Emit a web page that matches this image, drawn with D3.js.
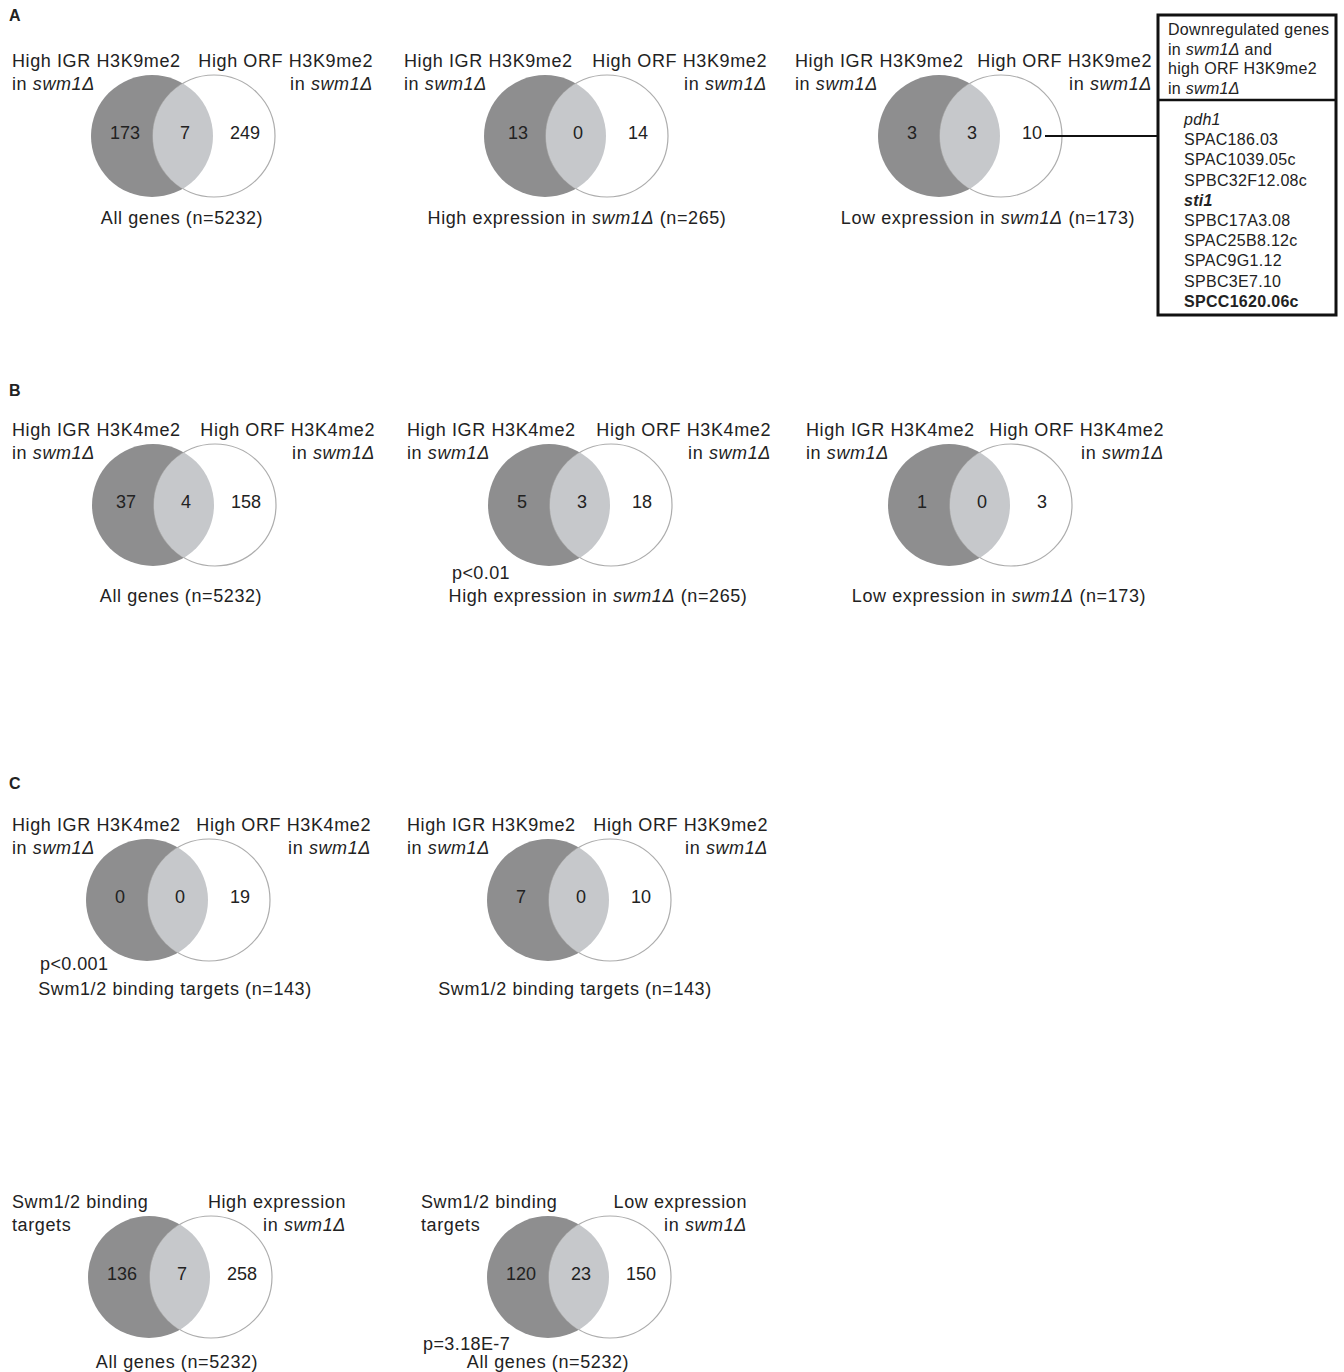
<!DOCTYPE html>
<html>
<head>
<meta charset="utf-8">
<script src="https://cdn.jsdelivr.net/npm/d3@7"></script>
<style>
  body { margin: 0; background: #fff; }
  text { font-family: "Liberation Sans", Arial, sans-serif; fill: #222; }
</style>
</head>
<body>
<svg></svg>
<script>
// ---- data ----
const panelLetters = ['A', 'B', 'C'];

const leftSetLabels = [
	['High IGR H3K9me2', 'in swm1Δ'], ['High IGR H3K9me2', 'in swm1Δ'], ['High IGR H3K9me2', 'in swm1Δ'],
	['High IGR H3K4me2', 'in swm1Δ'], ['High IGR H3K4me2', 'in swm1Δ'], ['High IGR H3K4me2', 'in swm1Δ'],
	['High IGR H3K4me2', 'in swm1Δ'], ['High IGR H3K9me2', 'in swm1Δ'],
	['Swm1/2 binding', 'targets'], ['Swm1/2 binding', 'targets']
];
const rightSetLabels = [
	['High ORF H3K9me2', 'in swm1Δ'], ['High ORF H3K9me2', 'in swm1Δ'], ['High ORF H3K9me2', 'in swm1Δ'],
	['High ORF H3K4me2', 'in swm1Δ'], ['High ORF H3K4me2', 'in swm1Δ'], ['High ORF H3K4me2', 'in swm1Δ'],
	['High ORF H3K4me2', 'in swm1Δ'], ['High ORF H3K9me2', 'in swm1Δ'],
	['High expression', 'in swm1Δ'], ['Low expression', 'in swm1Δ']
];
// [left only, overlap, right only]
const vennCounts = [
	[173, 7, 249], [13, 0, 14], [3, 3, 10],
	[37, 4, 158], [5, 3, 18], [1, 0, 3],
	[0, 0, 19], [7, 0, 10],
	[136, 7, 258], [120, 23, 150]
];
const universeLabels = [
	'All genes (n=5232)', 'High expression in swm1Δ (n=265)', 'Low expression in swm1Δ (n=173)',
	'All genes (n=5232)', 'High expression in swm1Δ (n=265)', 'Low expression in swm1Δ (n=173)',
	'Swm1/2 binding targets (n=143)', 'Swm1/2 binding targets (n=143)',
	'All genes (n=5232)', 'All genes (n=5232)'
];
const pValues = [null, null, null, null, 'p<0.01', null, 'p<0.001', null, null, 'p=3.18E-7'];

const geneBoxHeader = ['Downregulated genes', 'in swm1Δ and', 'high ORF H3K9me2', 'in swm1Δ'];
const geneList = ['pdh1', 'SPAC186.03', 'SPAC1039.05c', 'SPBC32F12.08c', 'sti1',
	'SPBC17A3.08', 'SPAC25B8.12c', 'SPAC9G1.12', 'SPBC3E7.10', 'SPCC1620.06c'];
const geneStyle = { pdh1: 'italic', sti1: 'bolditalic', 'SPCC1620.06c': 'bold' };

// ---- layout ----
const width = 1344, height = 1372;
const svg = d3.select('svg').attr('width', width).attr('height', height);

const rowY = [136, 505, 900, 1277];
const bottomOff = [81, 90, 88, 84];
const pOff = [0, 67, 63, 66];
const letterY = [15, 390, 783];
// per-venn: row, middle x, label extent, bottom label centre, p label start
const layout = [
	{ row: 0, mid: 183, l: 12, r: 373, bx: 182, px: 0 },
	{ row: 0, mid: 576, l: 404, r: 767, bx: 577, px: 0 },
	{ row: 0, mid: 970, l: 795, r: 1152, bx: 988, px: 0 },
	{ row: 1, mid: 184, l: 12, r: 375, bx: 181, px: 0 },
	{ row: 1, mid: 580, l: 407, r: 771, bx: 598, px: 452 },
	{ row: 1, mid: 980, l: 806, r: 1164, bx: 999, px: 0 },
	{ row: 2, mid: 178, l: 12, r: 371, bx: 175, px: 40 },
	{ row: 2, mid: 579, l: 407, r: 768, bx: 575, px: 0 },
	{ row: 3, mid: 180, l: 12, r: 346, bx: 177, px: 0 },
	{ row: 3, mid: 579, l: 421, r: 747, bx: 548, px: 423 }
];
const radius = 61, halfGap = 31;

// writes a string into a text node, with swm1Δ set in italics
const richText = (sel, str) => {
	str.split(/(swm1Δ)/).filter(s => s).forEach(part => {
		sel.append('tspan')
			.attr('font-style', part === 'swm1Δ' ? 'italic' : null)
			.text(part);
	});
};

svg.append('rect').attr('width', width).attr('height', height).attr('fill', '#fff');

svg.selectAll('.panel-letter').data(panelLetters).enter().append('text')
	.attr('class', 'panel-letter')
	.attr('x', 9).attr('y', (d, i) => letterY[i] + 6)
	.attr('font-size', 16).attr('font-weight', 'bold')
	.text(d => d);

const defs = svg.append('defs');

layout.forEach((lay, i) => {
	const cy = rowY[lay.row];
	const xScale = d3.scalePoint()
		.domain(['left', 'both', 'right'])
		.range([lay.mid - 58, lay.mid + 62]);
	const circleX = d3.scalePoint()
		.domain(['left', 'right'])
		.range([lay.mid - halfGap, lay.mid + halfGap]);

	const g = svg.append('g');

	defs.append('clipPath').attr('id', 'clip' + i)
		.append('circle')
		.attr('cx', circleX('left')).attr('cy', cy).attr('r', radius);

	g.append('circle')
		.attr('cx', circleX('left')).attr('cy', cy).attr('r', radius)
		.attr('fill', '#8e8e8f');
	g.append('circle')
		.attr('cx', circleX('right')).attr('cy', cy).attr('r', radius)
		.attr('fill', '#fff').attr('stroke', '#adadad').attr('stroke-width', 1.2);
	g.append('circle')
		.attr('clip-path', `url(#clip${i})`)
		.attr('cx', circleX('right')).attr('cy', cy).attr('r', radius)
		.attr('fill', '#c6c8cb');

	g.selectAll('.count').data(vennCounts[i]).enter().append('text')
		.attr('class', 'count')
		.attr('x', (d, j) => xScale(xScale.domain()[j]))
		.attr('y', cy + 2.5)
		.attr('text-anchor', 'middle')
		.attr('font-size', 18)
		.text(d => d);

	leftSetLabels[i].forEach((line, k) => {
		g.append('text')
			.attr('x', lay.l).attr('y', cy - 69 + k * 22.5)
			.attr('font-size', 18).attr('letter-spacing', 0.6)
			.call(richText, line);
	});
	rightSetLabels[i].forEach((line, k) => {
		g.append('text')
			.attr('x', lay.r).attr('y', cy - 69 + k * 22.5)
			.attr('text-anchor', 'end')
			.attr('font-size', 18).attr('letter-spacing', 0.6)
			.call(richText, line);
	});

	g.append('text')
		.attr('x', lay.bx).attr('y', cy + bottomOff[lay.row] + 6.5)
		.attr('text-anchor', 'middle')
		.attr('font-size', 18).attr('letter-spacing', 0.6)
		.call(richText, universeLabels[i]);

	if (pValues[i]) {
		g.append('text')
			.attr('x', lay.px).attr('y', cy + pOff[lay.row] + 6.5)
			.attr('font-size', 18).attr('letter-spacing', 0.4)
			.text(pValues[i]);
	}
});

// gene list box linked to the "10" region of panel A, third diagram
const box = { x: 1158, y: 15, w: 178, h: 300, split: 85 };
const linkY = rowY[0];

svg.append('line')
	.attr('x1', 1045).attr('x2', box.x)
	.attr('y1', linkY).attr('y2', linkY)
	.attr('stroke', '#111').attr('stroke-width', 2);

svg.append('rect')
	.attr('x', box.x).attr('y', box.y).attr('width', box.w).attr('height', box.h)
	.attr('fill', '#fff').attr('stroke', '#111').attr('stroke-width', 3);
svg.append('line')
	.attr('x1', box.x).attr('x2', box.x + box.w)
	.attr('y1', box.y + box.split).attr('y2', box.y + box.split)
	.attr('stroke', '#111').attr('stroke-width', 2.5);

svg.selectAll('.head').data(geneBoxHeader).enter().append('text')
	.attr('class', 'head')
	.attr('x', box.x + 10).attr('y', (d, i) => 35 + i * 19.6)
	.attr('font-size', 16).attr('letter-spacing', 0.3)
	.each(function (d) { richText(d3.select(this), d); });

svg.selectAll('.gene').data(geneList).enter().append('text')
	.attr('class', 'gene')
	.attr('x', box.x + 26).attr('y', (d, i) => 125 + i * 20.2)
	.attr('font-size', 16).attr('letter-spacing', 0.3)
	.attr('font-style', d => (geneStyle[d] || '').includes('italic') ? 'italic' : null)
	.attr('font-weight', d => (geneStyle[d] || '').includes('bold') ? 'bold' : null)
	.text(d => d);
</script>
</body>
</html>
